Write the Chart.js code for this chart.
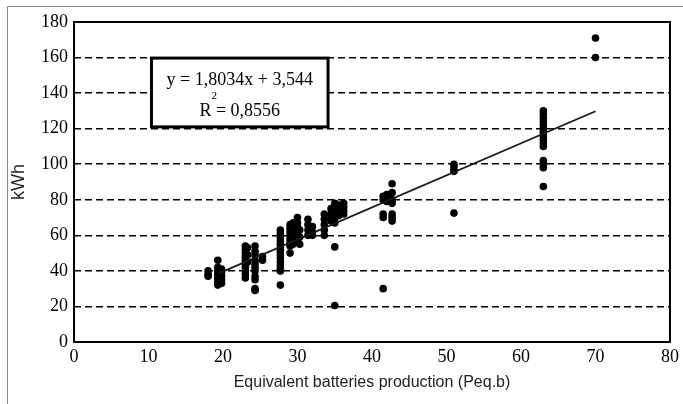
<!DOCTYPE html>
<html>
<head>
<meta charset="utf-8">
<script src="https://cdn.jsdelivr.net/npm/chart.js@4.4.1/dist/chart.umd.min.js"></script>
<style>
  html, body { margin: 0; padding: 0; background: #fff; }
  canvas { display: block; }
</style>
</head>
<body>
<canvas id="chart" width="683" height="404"></canvas>
<script>
// Measured points: x = equivalent batteries production, y = kWh
const xValues = [
  18, 18, 18,
  19.3, 19.3, 19.3, 19.3, 19.3, 19.3, 19.3,
  19.8, 19.8, 19.8, 19.8, 19.8,
  23, 23, 23, 23, 23, 23, 23, 23, 23, 23,
  23.3, 23.3, 23.3,
  24.3, 24.3, 24.3, 24.3, 24.3, 24.3, 24.3, 24.3, 24.3, 24.3, 24.3,
  25.3, 25.3,
  27.7, 27.7, 27.7, 27.7, 27.7, 27.7, 27.7, 27.7, 27.7, 27.7, 27.7, 27.7, 27.7, 27.7,
  29, 29, 29, 29, 29, 29, 29, 29,
  29.4, 29.4, 29.4, 29.4,
  30, 30, 30, 30, 30, 30,
  30.3, 30.3, 30.3,
  31.4, 31.4, 31.4, 31.4,
  32, 32, 32,
  33.6, 33.6, 33.6, 33.6, 33.6,
  34.5, 34.5, 34.5, 34.5,
  35, 35, 35, 35, 35, 35, 35, 35,
  35.5, 35.5, 35.5, 35.5,
  36.2, 36.2, 36.2, 36.2,
  41.5, 41.5, 41.5, 41.5, 41.5,
  42, 42, 42,
  42.7, 42.7, 42.7, 42.7, 42.7, 42.7, 42.7,
  51, 51, 51, 51, 51,
  63, 63, 63, 63, 63, 63, 63, 63, 63, 63, 63, 63, 63, 63, 63,
  70, 70
];
const yValues = [
  40, 38, 37,
  46, 42, 40, 38, 36, 34, 32,
  41, 39, 37, 35, 33,
  54, 52, 50, 48, 46, 44, 42, 40, 38, 36,
  53, 49, 45,
  54, 51, 49, 46, 44, 42, 40, 37, 35, 30, 29,
  48, 46,
  63, 61, 59, 57, 55, 53, 51, 49, 47, 45, 43, 41, 40, 32,
  66, 64, 62, 60, 58, 56, 54, 50,
  67, 63, 59, 55,
  70, 67, 65, 62, 60, 57,
  63, 59, 55,
  69, 66, 63, 60,
  65, 62, 60,
  72, 69, 66, 63, 60,
  75, 72, 70, 68,
  78, 76, 74, 72, 70, 67, 53.5, 20.5,
  77, 75, 73, 71,
  78, 76, 74, 72,
  82, 80, 72, 70, 30,
  83, 81, 79,
  89, 84, 80, 78, 72, 70, 68,
  100, 99, 97, 96, 72.5,
  130, 128, 126, 124, 122, 120, 118, 116, 114, 112, 110, 102, 100, 98, 87.5,
  171, 160
];

// Linear trend line endpoints (as drawn in the figure)
const trendX = [19.5, 70];
const trendY = [38.7, 129.8];

const equationText = "y = 1,8034x + 3,544";
const r2Text = " = 0,8556";

const xTitle = "Equivalent batteries production (Peq.b)";
const yTitle = "kWh";

const serif = "'Liberation Serif', 'Times New Roman', serif";
const sans = "'Liberation Sans', Arial, sans-serif";

const points = xValues.map((x, i) => ({ x, y: yValues[i] }));
const trend = trendX.map((x, i) => ({ x, y: trendY[i] }));

// Box around plot area, outer frame and equation label
const decorations = {
  id: "decorations",
  beforeDraw: (chart) => {
    const c = chart.ctx;
    c.save();
    c.strokeStyle = "#8a8a8a";
    c.lineWidth = 1;
    c.beginPath();
    c.moveTo(7.5, chart.height);
    c.lineTo(7.5, 6.5);
    c.lineTo(chart.width, 6.5);
    c.stroke();
    c.restore();
  },
  afterDraw: (chart) => {
    const c = chart.ctx;
    const { left, top, right, bottom } = chart.chartArea;
    const xs = chart.scales.x;
    const ys = chart.scales.y;
    c.save();
    c.strokeStyle = "#000";
    c.lineWidth = 2;
    c.strokeRect(left, top, right - left, bottom - top);

    // equation label box
    const bx1 = xs.getPixelForValue(10.4);
    const bx2 = xs.getPixelForValue(34.1);
    const by1 = ys.getPixelForValue(159.7);
    const by2 = ys.getPixelForValue(121);
    c.fillStyle = "#fff";
    c.fillRect(bx1, by1, bx2 - bx1, by2 - by1);
    c.lineWidth = 3;
    c.strokeRect(bx1, by1, bx2 - bx1, by2 - by1);

    const cx = (bx1 + bx2) / 2;
    c.fillStyle = "#000";
    c.textBaseline = "alphabetic";
    c.textAlign = "center";
    c.font = "18px " + serif;
    c.fillText(equationText, cx, by1 + 27);

    // R² line
    const rW = c.measureText("R").width;
    const restW = c.measureText(r2Text).width;
    const startX = cx - (rW + restW) / 2;
    c.textAlign = "left";
    c.fillText("R", startX, by1 + 58);
    c.fillText(r2Text, startX + rW, by1 + 58);
    c.font = "11px " + serif;
    c.fillText("2", startX + rW, by1 + 41);
    c.restore();
  }
};

new Chart(document.getElementById("chart"), {
  type: "scatter",
  data: {
    datasets: [
      {
        label: "data",
        data: points,
        backgroundColor: "#000",
        borderColor: "#000",
        pointRadius: 3.8,
        pointBorderWidth: 0,
        order: 2
      },
      {
        type: "line",
        label: "trend",
        data: trend,
        borderColor: "#1a1a1a",
        borderWidth: 1.8,
        pointRadius: 0,
        fill: false,
        order: 1
      }
    ]
  },
  options: {
    responsive: false,
    animation: false,
    layout: { padding: { left: 8, top: 22, right: 13, bottom: 0 } },
    plugins: {
      legend: { display: false },
      tooltip: { enabled: false }
    },
    scales: {
      x: {
        type: "linear",
        min: 0,
        max: 80,
        afterFit: (s) => { s.height = 62; },
        ticks: {
          stepSize: 10,
          color: "#000",
          padding: 4,
          font: { family: serif, size: 18 }
        },
        grid: { display: false, drawTicks: false },
        border: { display: false },
        title: {
          display: true,
          text: xTitle,
          color: "#222",
          font: { family: sans, size: 16 },
          padding: { top: 0, bottom: 12 }
        }
      },
      y: {
        min: 0,
        max: 180,
        afterFit: (s) => { s.width = 66; },
        ticks: {
          stepSize: 20,
          color: "#000",
          padding: 6,
          font: { family: serif, size: 18 }
        },
        grid: {
          drawTicks: false,
          lineWidth: 1.6,
          color: (ctx) =>
            ctx.tick && (ctx.tick.value === 0 || ctx.tick.value === 180)
              ? "rgba(0,0,0,0)"
              : "#000"
        },
        border: { display: false, dash: [7, 4] },
        title: {
          display: true,
          text: yTitle,
          color: "#222",
          font: { family: sans, size: 18 },
          padding: { top: 0, bottom: 2 }
        }
      }
    }
  },
  plugins: [decorations]
});
</script>
</body>
</html>
